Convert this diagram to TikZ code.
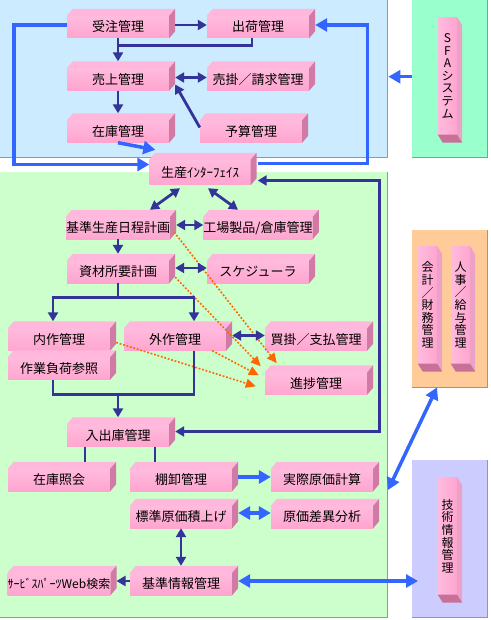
\documentclass[tikz,border=0pt]{standalone}
\usepackage{fontspec}
\setmainfont{Noto Sans CJK JP}
\usetikzlibrary{arrows.meta,calc}
\definecolor{navyc}{HTML}{333399}
\definecolor{bluec}{HTML}{3366FF}
\definecolor{orangec}{HTML}{FF6600}
\definecolor{bgblue}{HTML}{CCEBFF}
\definecolor{bggreen}{HTML}{CCFFCC}
\definecolor{bgmint}{HTML}{99FFCC}
\definecolor{bgorange}{HTML}{FFCC99}
\definecolor{bglav}{HTML}{CCCCFF}
\definecolor{pinkhi}{HTML}{FFBBDD}
\definecolor{pinklo}{HTML}{FFA5CF}
\definecolor{pinktop}{HTML}{FFB8DC}
\definecolor{pinkside}{HTML}{D07AA5}
\definecolor{pinkdark}{HTML}{C87098}
\definecolor{shadowc}{HTML}{8A9AA8}
\newcommand\pinkbox[4][]{%
  \node[hbox,#1] (#2) at (#3) {#4};
  \fill[pinktop] (#2.north west) -- ++(6,-7) -- ([shift={(6,-7)}]#2.north east) -- (#2.north east) -- cycle;
  \fill[pinkside] (#2.north east) -- ++(6,-7) -- ([shift={(6,-7)}]#2.south east) -- (#2.south east) -- cycle;}
\newcommand\pinkbar[3]{%
  \node[vbox] (#1) at (#2) {#3};
  \fill[pinkhi!60!pinkside] (#1.north east) -- ++(5,8) -- ([shift={(5,8)}]#1.south east) -- (#1.south east) -- cycle;
  \fill[pinkdark] (#1.south west) -- ++(5,8) -- ([shift={(5,8)}]#1.south east) -- (#1.south east) -- cycle;}
\begin{document}
\begin{tikzpicture}[x=1pt,y=-1pt,
  bg/.style={rectangle, inner sep=0, draw=none, anchor=north west},
  shadowline/.style={draw=shadowc, line width=1pt},
  hbox/.style={rectangle, inner sep=0, minimum width=102pt, minimum height=22pt,
    top color=pinkhi, bottom color=pinklo, font=\fontsize{13}{14}\selectfont},
  vbox/.style={rectangle, inner sep=0, minimum width=19pt, minimum height=117pt,
    left color=pinkhi, right color=pinklo, align=center,
    font=\fontsize{12}{12.6}\selectfont},
  navyl/.style={draw=navyc, line width=2.8pt},
  navya/.style={navyl, -{Triangle[length=9pt,width=10pt]}},
  navyd/.style={navyl, {Triangle[length=9pt,width=10pt]}-{Triangle[length=9pt,width=10pt]}},
  bluel/.style={draw=bluec, line width=3.5pt},
  bluea/.style={bluel, -{Triangle[length=12pt,width=13pt]}},
  blued/.style={bluel, {Triangle[length=12pt,width=13pt]}-{Triangle[length=12pt,width=13pt]}},
  orangea/.style={draw=orangec, line width=1.6pt, dash pattern=on 1.8pt off 1.8pt,
    -{Triangle[length=10pt,width=9pt]}}]
\useasboundingbox (0,0) rectangle (490,620);
\fill[white] (0,0) rectangle (490,620);
% background regions
\node[bg, fill=bgblue, minimum width=387pt, minimum height=157pt] (bluebg) at (0,0) {};
\node[bg, fill=bggreen, minimum width=387pt, minimum height=445pt] (greenbg) at (0,172) {};
\node[bg, fill=bgmint, minimum width=75pt, minimum height=157pt] (sfabg) at (412,0) {};
\node[bg, fill=bgorange, minimum width=75pt, minimum height=157pt] (orangebg) at (412,230) {};
\node[bg, fill=bglav, minimum width=75pt, minimum height=157pt] (gijbg) at (412,460) {};
\foreach \r in {bluebg,greenbg,sfabg,orangebg,gijbg}
  \draw[shadowline] (\r.north east) -- (\r.south east) -- (\r.south west);
\coordinate (glink) at (388,490);
\coordinate (hrlink) at ([xshift=25pt]orangebg.south west);
% positions of boxes (named nodes placed first as coordinates)
\path
  (118,27) coordinate (pjuchu)
  (258,27) coordinate (pshukka)
  (118,79.5) coordinate (puriage)
  (258,79.5) coordinate (purikake)
  (118,131.5) coordinate (pzaiko)
  (251,131.5) coordinate (pyosan)
  (200,172.5) coordinate (pseisan)
  (118,228) coordinate (pkijun)
  (258,228) coordinate (pkojo)
  (118,272) coordinate (pshizai)
  (258,272) coordinate (psched)
  (59,339.5) coordinate (pnaisaku)
  (59,368.5) coordinate (psagyo)
  (175,339.5) coordinate (pgaisaku)
  (316,339.5) coordinate (pkaikake)
  (316,383.5) coordinate (pshinchoku)
  (118,435.5) coordinate (pnyushukko)
  (59,480) coordinate (pzaikosho)
  (181,480) coordinate (ptanaoroshi)
  (322,480) coordinate (pjissai)
  (181,517) coordinate (phyojun)
  (322,517) coordinate (psai)
  (59,584) coordinate (pservice)
  (181,584) coordinate (pkihon);
% boxes
\pinkbox{juchu}{pjuchu}{受注管理}
\pinkbox{shukka}{pshukka}{出荷管理}
\pinkbox{uriage}{puriage}{売上管理}
\pinkbox{urikake}{purikake}{売掛／請求管理}
\pinkbox{zaiko}{pzaiko}{在庫管理}
\pinkbox{yosan}{pyosan}{予算管理}
\pinkbox[minimum width=101pt, minimum height=25pt]{seisan}{pseisan}{生産ｲﾝﾀｰﾌｪｲｽ}
\pinkbox{kijun}{pkijun}{基準生産日程計画}
\pinkbox{kojo}{pkojo}{工場製品/倉庫管理}
\pinkbox{shizai}{pshizai}{資材所要計画\hspace{18pt}}
\pinkbox{sched}{psched}{スケジューラ}
\pinkbox{naisaku}{pnaisaku}{内作管理}
\pinkbox{sagyo}{psagyo}{作業負荷参照}
\pinkbox{gaisaku}{pgaisaku}{外作管理}
\pinkbox{kaikake}{pkaikake}{買掛／支払管理}
\pinkbox{shinchoku}{pshinchoku}{進捗管理}
\pinkbox{nyushukko}{pnyushukko}{入出庫管理}
\pinkbox{zaikosho}{pzaikosho}{在庫照会}
\pinkbox{tanaoroshi}{ptanaoroshi}{棚卸管理}
\pinkbox{jissai}{pjissai}{実際原価計算}
\pinkbox{hyojun}{phyojun}{標準原価積上げ}
\pinkbox{sai}{psai}{原価差異分析}
\pinkbox[font=\fontsize{12}{13}\selectfont]{service}{pservice}{ｻｰﾋﾞｽﾊﾟｰﾂWeb検索}
\pinkbox{kihon}{pkihon}{基準情報管理}
% vertical bars
\pinkbar{sfa}{447.5,76}{S\\F\\A\\シ\\ス\\テ\\ム}
\pinkbar{kaikei}{427.5,305}{会\\計\\／\\財\\務\\管\\理}
\pinkbar{jinji}{460.5,305}{人\\事\\／\\給\\与\\管\\理}
\pinkbar{gijutsu}{447.5,536}{技\\術\\情\\報\\管\\理}
% orange dotted links
\draw[orangea] ([xshift=4pt,yshift=7pt]kijun.south east) -- ([xshift=12pt,yshift=9pt]shinchoku.north west);
\draw[orangea] ([xshift=6pt,yshift=6pt]shizai.south east) -- ([xshift=-4pt,yshift=6pt]shinchoku.north west);
\draw[orangea] ([xshift=-14pt]gaisaku.south east) -- ([xshift=-6pt,yshift=-3pt]shinchoku.north west);
\draw[orangea] ([xshift=6pt,yshift=-3pt]naisaku.east) -- ([xshift=-9pt,yshift=-14pt]shinchoku.north west);
% top region connectors
\draw[navya] ([xshift=6pt,yshift=2pt]juchu.east) -- ([yshift=2pt]shukka.west);
\draw[navyl] ([xshift=-6pt]shukka.south) |- ([yshift=-7pt]juchu.south);
\draw[navya] (juchu.south) -- ([yshift=7pt]uriage.north);
\draw[navyd] ([xshift=6pt,yshift=2pt]uriage.east) -- ([yshift=2pt]urikake.west);
\draw[navya] (uriage.south) -- ([yshift=7pt]zaiko.north);
\draw[navya] ([yshift=4pt]yosan.west) -- ([xshift=6pt,yshift=-5pt]uriage.east);
\draw[bluea] (zaiko.south) -- ([xshift=6pt,yshift=10pt]seisan.north west);
\draw[bluea] ([yshift=2pt]juchu.west) -- ++(-53,0) |- ([yshift=8pt]seisan.west);
\draw[bluea] ([xshift=7pt,yshift=9pt]seisan.east) -- ++(110,0) |- ([xshift=6pt,yshift=2pt]shukka.east);
\draw[bluea] ([yshift=2pt]sfabg.west) -- ([xshift=1pt,yshift=2pt]bluebg.east);
% production region connectors
\draw[navyd] ([xshift=-20pt,yshift=-3pt]seisan.south) -- ([xshift=32pt,yshift=7pt]kijun.north);
\draw[navyd] ([xshift=8pt,yshift=-3pt]seisan.south) -- ([xshift=-20pt,yshift=7pt]kojo.north);
\draw[navyd] ([xshift=6pt,yshift=3pt]kijun.east) -- ([yshift=3pt]kojo.west);
\draw[navya] (kijun.south) -- ([yshift=7pt]shizai.north);
\draw[navyd] ([xshift=6pt,yshift=4pt]shizai.east) -- ([yshift=4pt]sched.west);
\draw[navyl] (shizai.south) -- ([yshift=-14pt]shizai.south);
\draw[navya] ([yshift=-14pt]shizai.south) -| ([xshift=-6pt,yshift=7pt]naisaku.north);
\draw[navya] ([yshift=-14pt]shizai.south) -| ([xshift=19pt,yshift=7pt]gaisaku.north);
\draw[navyd] ([xshift=6pt,yshift=4pt]gaisaku.east) -- ([yshift=4pt]kaikake.west);
\draw[navyl] ([xshift=-6pt]sagyo.south) -- ++(0,15) -| ([xshift=19pt]gaisaku.south);
\draw[navya] ([yshift=29pt]nyushukko.north) -- ([yshift=7pt]nyushukko.north);
\draw[navyd] ([xshift=7pt,yshift=-8pt]seisan.east) -- ++(122,0) |- ([xshift=6pt,yshift=4pt]nyushukko.east);
\draw[navyl] ([xshift=-33pt]nyushukko.south) -- ([xshift=26pt,yshift=7pt]zaikosho.north);
\draw[navyl] ([xshift=37pt]nyushukko.south) -- ([xshift=-26pt,yshift=7pt]tanaoroshi.north);
\draw[bluea] ([xshift=6pt,yshift=3pt]tanaoroshi.east) -- ([yshift=3pt]jissai.west);
\draw[blued] ([xshift=6pt,yshift=4pt]hyojun.east) -- ([yshift=4pt]sai.west);
\draw[navyd] (hyojun.south) -- ([yshift=7pt]kihon.north);
\draw[navya] ([yshift=3pt]kihon.west) -- ([xshift=6pt,yshift=3pt]service.east);
\draw[blued] ([xshift=6pt,yshift=3pt]kihon.east) -- ($(gijbg.west |- kihon.east)+(6,-3)$);
\draw[blued] (glink) -- (hrlink);
\end{tikzpicture}
\end{document}
